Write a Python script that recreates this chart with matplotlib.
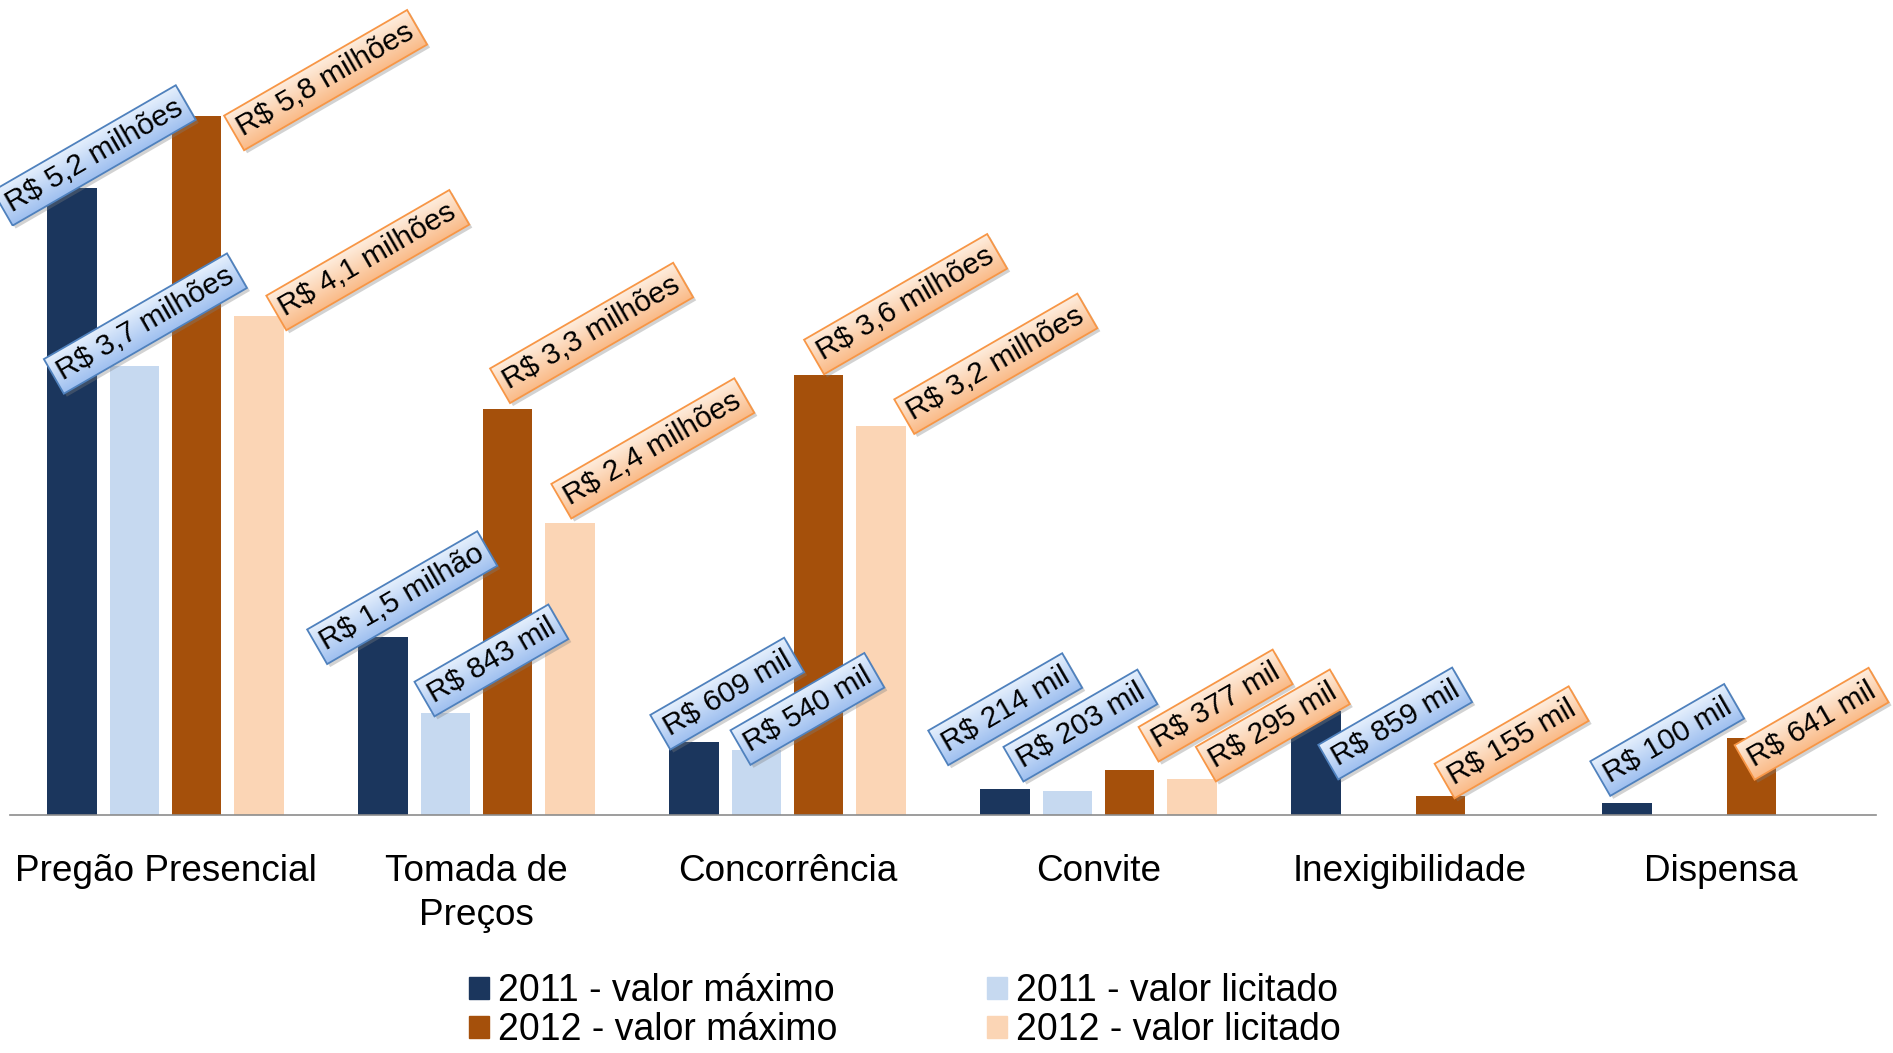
import numpy as np
import matplotlib
matplotlib.use('Agg')
import matplotlib.pyplot as plt
from matplotlib.path import Path
from matplotlib.transforms import IdentityTransform, Affine2D
from matplotlib.patches import PathPatch, Patch

plt.rcParams['font.family'] = ['Liberation Sans', 'DejaVu Sans']

# ---------------- data (values in millions of R$) ----------------
categories = ['Pregão Presencial', 'Tomada de\nPreços', 'Concorrência', 'Convite',
              'Inexigibilidade', 'Dispensa']
series_names = ['2011 - valor máximo', '2011 - valor licitado',
                '2012 - valor máximo', '2012 - valor licitado']
max_2011 = [5.20, 1.48, 0.609, 0.214, 0.859, 0.100]
lic_2011 = [3.73, 0.843, 0.540, 0.203, np.nan, np.nan]
max_2012 = [5.80, 3.37, 3.65, 0.377, 0.155, 0.641]
lic_2012 = [4.14, 2.42, 3.23, 0.295, np.nan, np.nan]

labels_max_2011 = ['R$ 5,2 milhões', 'R$ 1,5 milhão', 'R$ 609 mil', 'R$ 214 mil', 'R$ 859 mil', 'R$ 100 mil']
labels_lic_2011 = ['R$ 3,7 milhões', 'R$ 843 mil', 'R$ 540 mil', 'R$ 203 mil', None, None]
labels_max_2012 = ['R$ 5,8 milhões', 'R$ 3,3 milhões', 'R$ 3,6 milhões', 'R$ 377 mil', 'R$ 155 mil', 'R$ 641 mil']
labels_lic_2012 = ['R$ 4,1 milhões', 'R$ 2,4 milhões', 'R$ 3,2 milhões', 'R$ 295 mil', None, None]

# ---------------- layout / style ----------------
off_max_2011 = [(22, 33), (19, 39), (33, 48), (0, 80), (79, -12), (40, 63)]
off_lic_2011 = [(11, 42), (46, 53), (51, 41), (13, 65), None, None]
off_max_2012 = [(129, 36), (84, 76), (87, 71), (86, 64), (71, 54), (60, 14)]
off_lic_2012 = [(109, 56), (83, 75), (115, 62), (81, 54), None, None]

bar_colors = ['#1b365d', '#c6d9f0', '#a5500b', '#fbd5b5']
box_edge = ['#4f81bd', '#4f81bd', '#f79646', '#f79646']
grad_top = [np.array([0.90, 0.94, 0.99]), np.array([0.90, 0.94, 0.99]),
            np.array([0.995, 0.93, 0.87]), np.array([0.995, 0.93, 0.87])]
grad_bot = [np.array([0.62, 0.75, 0.94]), np.array([0.62, 0.75, 0.94]),
            np.array([0.98, 0.73, 0.53]), np.array([0.98, 0.73, 0.53])]

W, H = 1893, 1053
fig = plt.figure(figsize=(W / 100, H / 100), dpi=100)
ax = fig.add_axes([10 / W, (H - 815) / H, 1866 / W, 815 / H])

values = [max_2011, lic_2011, max_2012, lic_2012]
labels = [labels_max_2011, labels_lic_2011, labels_max_2012, labels_lic_2012]
offsets = [off_max_2011, off_lic_2011, off_max_2012, off_lic_2012]

x = np.arange(len(categories))
width = 0.16
shifts = [-0.3, -0.1, 0.1, 0.3]
for s in range(4):
    ax.bar(x + shifts[s], values[s], width, color=bar_colors[s], zorder=2,
           label=series_names[s])

ax.set_xlim(-0.5, len(categories) - 0.5)
ax.set_ylim(0, 815 / 120.5)
ax.set_autoscale_on(False)

for sp in ['left', 'right', 'top']:
    ax.spines[sp].set_visible(False)
ax.spines['bottom'].set_color('#8c8c8c')
ax.spines['bottom'].set_linewidth(1.2)
ax.set_yticks([])
ax.set_xticks(x, categories, fontsize=26.6)
ax.tick_params(axis='x', length=0, pad=28)
for t in ax.get_xticklabels():
    t.set_multialignment('center')
    t.set_linespacing(1.32)

# data labels
anns = []
k = 0
for s in range(4):
    for i in range(len(categories)):
        if labels[s][i] is None:
            continue
        z = 3 + k * 0.01
        a = ax.annotate(labels[s][i], xy=(x[i] + shifts[s], values[s][i]),
                        xytext=offsets[s][i], textcoords='offset pixels',
                        ha='center', va='center', rotation=30, rotation_mode='anchor',
                        fontsize=21.5, color='black', zorder=z + 0.003,
                        bbox=dict(boxstyle='square,pad=0.2', fc='none',
                                  ec=box_edge[s], lw=1.3))
        anns.append((a, s, z))
        k += 1

# legend
handles = [Patch(color=bar_colors[i]) for i in [0, 2, 1, 3]]
names = [series_names[i] for i in [0, 2, 1, 3]]
fig.legend(handles, names, ncol=2, loc='center', bbox_to_anchor=(905 / W, 0.040),
           frameon=False, fontsize=27, handlelength=0.52, handleheight=0.52,
           handletextpad=0.25, columnspacing=4.0, labelspacing=0.08, borderpad=0)

# gradient fill + shadow for label boxes
fig.canvas.draw()
ang = np.deg2rad(30)
nrm = np.array([-np.sin(ang), np.cos(ang)])
for a, s, z in anns:
    patch = a.get_bbox_patch()
    path = patch.get_transform().transform_path(patch.get_path())
    verts = path.vertices
    cx, cy = verts[:-1].mean(axis=0)
    proj = (verts[:, 0] - cx) * nrm[0] + (verts[:, 1] - cy) * nrm[1]
    half = np.abs(proj).max()
    x0, y0 = np.floor(verts.min(axis=0)) - 1
    x1, y1 = np.ceil(verts.max(axis=0)) + 1
    nx, ny = int(x1 - x0), int(y1 - y0)
    gx, gy = np.meshgrid(x0 + np.arange(nx) + 0.5, y0 + np.arange(ny) + 0.5)
    t = ((gx - cx) * nrm[0] + (gy - cy) * nrm[1]) / half
    f = np.clip((t + 1) / 2, 0, 1)[..., None]
    rgb = grad_bot[s] * (1 - f) + grad_top[s] * f
    img = np.concatenate([rgb, np.ones((ny, nx, 1))], axis=2)
    im = ax.imshow(img, extent=(x0, x1, y0, y1), transform=IdentityTransform(),
                   origin='lower', aspect='auto', interpolation='nearest', zorder=z + 0.002)
    im.set_clip_path(Path(verts, path.codes), IdentityTransform())
    im.set_clip_box(fig.bbox)
    shadow_path = Affine2D().translate(3, -3).transform_path(path)
    sh = PathPatch(shadow_path, transform=IdentityTransform(), facecolor='#7f7f7f',
                   edgecolor='none', alpha=0.35, zorder=z + 0.001)
    ax.add_artist(sh)
    sh.set_clip_on(False)

ax.set_xlim(-0.5, len(categories) - 0.5)
ax.set_ylim(0, 815 / 120.5)

fig.savefig('out.png', dpi=100)
